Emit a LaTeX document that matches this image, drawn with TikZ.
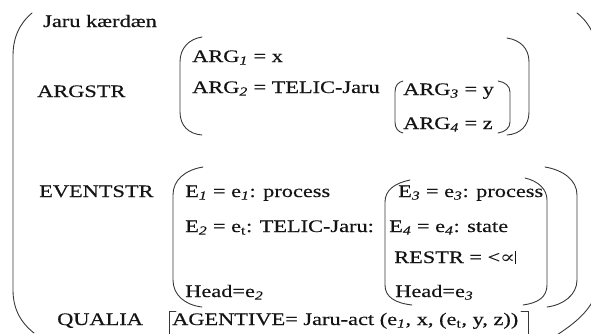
\documentclass[tikz,border=0pt]{standalone}
\usepackage{fontspec}
\setmainfont{Liberation Serif}[FakeBold=0.35]
\newfontfamily\symfont{DejaVu Serif}
\newcommand{\lsub}[1]{\textsubscript{\textit{#1}}}
\newcommand{\usub}[1]{\textsubscript{#1}}
\tikzset{
  lbl/.style={anchor=base west, inner sep=0pt, text=black!92,
    font=\fontsize{17.6}{20}\selectfont, xscale=1.27},
  brk/.style={draw=black!78, line width=0.9pt, line cap=round}
}
\begin{document}
\begin{tikzpicture}[x=1pt,y=-1pt]
\useasboundingbox (0,0) rectangle (591,333);
\clip (0,0) rectangle (591,333);

% outer bracket pair
\draw[brk] (32,13) .. controls (19,24) and (13,38) .. (13,56) -- (13,290)
  .. controls (13,308) and (20,322) .. (34,333);
\draw[brk] (577,13) .. controls (591,24) and (598,40) .. (598,62) -- (598,280)
  .. controls (598,305) and (578,322) .. (552,338);

% ARGSTR brackets
\draw[brk] (202,37) .. controls (189,39) and (180,48) .. (180,62) -- (180,112)
  .. controls (180,126) and (189,134) .. (202,135);
\draw[brk] (507,38) .. controls (520,40) and (529,48) .. (529,62) -- (529,112)
  .. controls (529,126) and (520,134) .. (507,135);
\draw[brk] (403,81) .. controls (398,82) and (395,86) .. (395,92) -- (395,122)
  .. controls (395,128) and (398,132) .. (403,133);
\draw[brk] (498,81) .. controls (505,82) and (510,86) .. (510,92) -- (510,122)
  .. controls (510,128) and (505,132) .. (498,133);

% EVENTSTR brackets
\draw[brk] (203,167) .. controls (185,170) and (173,180) .. (173,195) -- (173,280)
  .. controls (173,295) and (185,305) .. (202,307);
\draw[brk] (410,180) .. controls (395,183) and (385,190) .. (385,202) -- (385,285)
  .. controls (385,297) and (395,303) .. (412,305);
\draw[brk] (525,178) .. controls (538,181) and (547,189) .. (547,200) -- (547,285)
  .. controls (547,297) and (538,303) .. (523,305);
\draw[brk] (545,167) .. controls (563,170) and (577,180) .. (577,195) -- (577,280)
  .. controls (577,295) and (563,305) .. (547,307);

% QUALIA corner brackets
\draw[brk] (176,311) -- (169,311) -- (169,345);
\draw[brk] (521,311) -- (528,311) -- (528,345);

% labels
\node[lbl] (name) at (43,27) {Jaru kærdæn};
\node[lbl] (argstr) at (37,97) {ARGSTR};
\node[lbl] (arg1) at (192,62) {ARG\lsub{1} = x};
\node[lbl] (arg2) at (192,93) {ARG\lsub{2} = TELIC-Jaru};
\node[lbl] (arg3) at (403,95) {ARG\lsub{3} = y};
\node[lbl] (arg4) at (403,129) {ARG\lsub{4} = z};

\node[lbl] (evstr) at (39,197) {EVENTSTR};
\node[lbl] (e1) at (185,197) {E\lsub{1} = e\lsub{1}: process};
\node[lbl] (e2) at (185,232) {E\lsub{2} = e\usub{t}: TELIC-Jaru:};
\node[lbl] (hd2) at (185,297) {Head=e\lsub{2}};
\node[lbl] (e3) at (398,197) {E\lsub{3} = e\lsub{3}: process};
\node[lbl] (e4) at (389,232) {E\lsub{4} = e\lsub{4}: state};
\node[lbl] (restr) at (394,263) {RESTR = <{\symfont ∝}\rule[-1pt]{0.5pt}{13pt}};
\node[lbl] (hd3) at (395,297) {Head=e\lsub{3}};

\node[lbl] (qualia) at (57,325) {QUALIA};
\node[lbl] (agent) at (172,325) {AGENTIVE= Jaru-act (e\lsub{1}, x, (e\usub{t}, y, z))};
\end{tikzpicture}
\end{document}
